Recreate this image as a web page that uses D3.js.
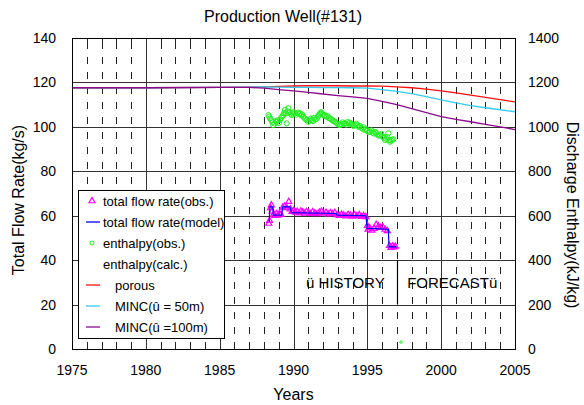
<!DOCTYPE html>
<html>
<head>
<meta charset="utf-8">
<script src="https://cdn.jsdelivr.net/npm/d3@7"></script>
<style>
  body { margin: 0; background: #fff; }
  text { font-family: "Liberation Sans", Arial, sans-serif; fill: #000; }
</style>
</head>
<body>
<svg id="chart"></svg>
<script>
// Axis ticks
const xTicks = [1975, 1980, 1985, 1990, 1995, 2000, 2005];
const yLeftTicks = [0, 20, 40, 60, 80, 100, 120, 140];
const yRightTicks = [0, 200, 400, 600, 800, 1000, 1200, 1400];

// Enthalpy (calc.) in kJ/kg
const calcYears = [1975, 1980, 1985, 1987, 1988, 1989, 1990, 1991, 1992, 1993, 1994, 1995, 1996, 1997, 1998, 1999, 2000, 2001, 2002, 2003, 2004, 2005];
const porous  = [1176, 1176, 1178, 1179, 1180, 1182, 1184, 1185, 1185, 1185, 1184, 1184, 1183, 1180, 1176, 1170, 1162, 1153, 1143, 1133, 1123, 1112];
const minc50  = [1176, 1176, 1178, 1179, 1180, 1179, 1178, 1178, 1177, 1177, 1176, 1174, 1168, 1160, 1150, 1136, 1121, 1108, 1096, 1086, 1077, 1068];
const minc100 = [1176, 1176, 1178, 1178, 1174, 1168, 1162, 1155, 1148, 1141, 1135, 1128, 1115, 1100, 1082, 1064, 1046, 1034, 1023, 1011, 1000, 988];

// Total flow rate (model), kg/s
const modelYears = [1988.36, 1988.40, 1988.60, 1988.63, 1989.20, 1989.27, 1989.76, 1989.88, 1992.90, 1992.93, 1994.91, 1994.98, 1996.42, 1996.47, 1996.99];
const modelFlow  = [57.3, 64.0, 64.0, 60.3, 60.3, 64.0, 64.0, 61.4, 61.0, 60.3, 60.0, 54.3, 53.9, 46.0, 46.0];

// Total flow rate (obs.), kg/s
const obsFlowYears = [1988.33, 1988.38, 1988.45, 1988.50, 1988.55, 1988.65, 1988.75, 1988.85, 1988.95, 1989.05, 1989.15, 1989.28, 1989.40, 1989.55, 1989.68, 1989.78, 1989.90,
  1990.00, 1990.12, 1990.25, 1990.38, 1990.50, 1990.62, 1990.75, 1990.88, 1991.00, 1991.15, 1991.30, 1991.45, 1991.60, 1991.75, 1991.90,
  1992.05, 1992.20, 1992.35, 1992.50, 1992.65, 1992.80, 1992.95, 1993.10, 1993.25, 1993.40, 1993.55, 1993.70, 1993.85,
  1994.00, 1994.15, 1994.30, 1994.45, 1994.60, 1994.75, 1994.90, 1995.00, 1995.05, 1995.15, 1995.30, 1995.45, 1995.60, 1995.75, 1995.90,
  1996.05, 1996.20, 1996.35, 1996.50, 1996.60, 1996.70, 1996.80, 1996.90];
const obsFlow = [56.5, 57.8, 63.5, 64.8, 62.0, 60.5, 60.0, 60.8, 60.2, 61.0, 60.5, 63.8, 64.2, 63.5, 66.3, 63.0, 61.8,
  62.3, 61.5, 61.9, 61.2, 62.0, 61.6, 61.0, 61.8, 61.3, 60.9, 61.7, 61.2, 60.8, 61.5, 61.9,
  61.0, 61.4, 60.7, 61.2, 60.9, 61.3, 60.4, 60.0, 60.6, 60.2, 59.8, 60.5, 60.1,
  59.7, 60.3, 59.9, 60.4, 59.6, 60.0, 59.5, 55.5, 53.8, 54.5, 53.4, 54.2, 56.0, 55.2, 54.6,
  54.9, 53.8, 53.2, 46.5, 45.6, 46.3, 45.8, 46.2];

// Enthalpy (obs.), kJ/kg
const obsEnthYears = [1988.30, 1988.36, 1988.41, 1988.50, 1988.57, 1988.63, 1988.72, 1988.80, 1988.86, 1988.95, 1989.02, 1989.09, 1989.18, 1989.25, 1989.31, 1989.36,
  1989.42, 1989.48, 1989.54, 1989.60, 1989.65, 1989.72, 1989.80, 1989.88, 1989.95, 1990.02, 1990.10, 1990.20, 1990.30, 1990.38, 1990.44, 1990.52, 1990.58, 1990.66, 1990.74, 1990.82,
  1990.90, 1991.00, 1991.08, 1991.15, 1991.23, 1991.32, 1991.40, 1991.48, 1991.57, 1991.65, 1991.72, 1991.80, 1991.87, 1991.91, 1992.00, 1992.08, 1992.13, 1992.22, 1992.30, 1992.38,
  1992.47, 1992.55, 1992.63, 1992.72, 1992.81, 1992.90, 1992.98, 1993.07, 1993.15, 1993.24, 1993.32, 1993.40, 1993.49, 1993.58, 1993.66, 1993.75, 1993.83, 1993.92, 1994.00, 1994.08,
  1994.17, 1994.26, 1994.34, 1994.42, 1994.50, 1994.58, 1994.67, 1994.75, 1994.84, 1994.92, 1995.00, 1995.10, 1995.18, 1995.27, 1995.35, 1995.44, 1995.52, 1995.60, 1995.68, 1995.77,
  1995.86, 1995.95, 1996.03, 1996.12, 1996.20, 1996.28, 1996.36, 1996.42, 1996.48, 1996.54, 1996.60, 1996.68, 1996.76, 1997.28];
const obsEnth = [1053, 1046, 1038, 1030, 1020, 1008, 1015, 1026, 1023, 1030, 1018, 1031, 1042, 1048, 1053, 1062,
  1076, 1060, 1016, 1070, 1084, 1066, 1058, 1053, 1060, 1066, 1061, 1055, 1064, 1058, 1061, 1052, 1056, 1046, 1040, 1035,
  1030, 1023, 1028, 1036, 1031, 1026, 1040, 1033, 1038, 1046, 1054, 1060, 1066, 1061, 1056, 1050, 1053, 1046, 1048, 1040,
  1038, 1034, 1030, 1026, 1023, 1018, 1014, 1010, 1008, 1012, 1020, 1014, 1016, 1010, 1022, 1016, 1019, 1012, 1008, 1004,
  1008, 1014, 1006, 1000, 1004, 996, 992, 998, 986, 990, 982, 976, 978, 984, 974, 970, 978, 972, 966, 960,
  963, 968, 956, 950, 941, 946, 954, 971, 940, 933, 938, 942, 944, 31];

const svgWidth = 584, svgHeight = 405;
const margin = { top: 38, right: 69, bottom: 56, left: 72 };
const width = svgWidth - margin.left - margin.right;
const height = svgHeight - margin.top - margin.bottom;

const root = d3.select("#chart").attr("width", svgWidth).attr("height", svgHeight);
const svg = root.append("g").attr("transform", `translate(${margin.left}, ${margin.top})`);

const x = d3.scaleLinear().domain([1975, 2005]).range([0, width]);
const yL = d3.scaleLinear().domain([0, 140]).range([height, 0]);
const yR = d3.scaleLinear().domain([0, 1400]).range([height, 0]);

// Minor dashed vertical lines, every year
const years = d3.range(1976, 2005).filter(y => y % 5 !== 0);
svg.append("g").selectAll("line").data(years).join("line")
    .attr("x1", d => Math.round(x(d)) + 0.5).attr("x2", d => Math.round(x(d)) + 0.5)
    .attr("y1", 0).attr("y2", height)
    .attr("stroke", "#222").attr("stroke-dasharray", "7,8").attr("stroke-dashoffset", -4);

// Year ticks on top and bottom
svg.append("g").selectAll("line").data(years).join("line")
    .attr("x1", d => Math.round(x(d)) + 0.5).attr("x2", d => Math.round(x(d)) + 0.5)
    .attr("y1", 0).attr("y2", 6).attr("stroke", "#222");
svg.append("g").selectAll("line").data(years).join("line")
    .attr("x1", d => Math.round(x(d)) + 0.5).attr("x2", d => Math.round(x(d)) + 0.5)
    .attr("y1", height - 6).attr("y2", height).attr("stroke", "#222");

// Major grid
svg.append("g").selectAll("line").data(xTicks.slice(1, -1)).join("line")
    .attr("x1", d => Math.round(x(d)) + 0.5).attr("x2", d => Math.round(x(d)) + 0.5)
    .attr("y1", 0).attr("y2", height).attr("stroke", "#333");
svg.append("g").selectAll("line").data(yLeftTicks.slice(1, -1)).join("line")
    .attr("x1", 0).attr("x2", width)
    .attr("y1", d => Math.round(yL(d)) + 0.5).attr("y2", d => Math.round(yL(d)) + 0.5)
    .attr("stroke", "#333");

// Enthalpy calc curves
const calcLine = vals => d3.line().x((d, i) => x(calcYears[i])).y(d => yR(d))(vals);
const curves = [
    { vals: porous, color: "#ff1010" },
    { vals: minc50, color: "#33ccf0" },
    { vals: minc100, color: "#8b0a8b" }
];
curves.forEach(c => {
    svg.append("path").attr("d", calcLine(c.vals))
        .attr("fill", "none").attr("stroke", c.color).attr("stroke-width", 1.3);
});

// Enthalpy obs
svg.append("g").selectAll("circle").data(obsEnth).join("circle")
    .attr("cx", (d, i) => x(obsEnthYears[i])).attr("cy", d => yR(d))
    .attr("r", d => d < 100 ? 1.2 : 2.6)
    .attr("fill", "none").attr("stroke", "#22ee22").attr("stroke-width", 1);

// Flow obs
const tri = d3.symbol().type(d3.symbolTriangle).size(16);
svg.append("g").selectAll("path").data(obsFlow).join("path")
    .attr("d", tri)
    .attr("transform", (d, i) => `translate(${x(obsFlowYears[i])},${yL(d)})`)
    .attr("fill", "none").attr("stroke", "#ff00ff").attr("stroke-width", 1.2);

// Flow model
svg.append("path")
    .attr("d", d3.line().x((d, i) => x(modelYears[i])).y(d => yL(d))(modelFlow))
    .attr("fill", "none").attr("stroke", "#0000ff").attr("stroke-width", 1.2);

// HISTORY / FORECAST divider
svg.append("line")
    .attr("x1", Math.round(x(1997)) + 0.5).attr("x2", Math.round(x(1997)) + 0.5)
    .attr("y1", yL(40)).attr("y2", yL(20)).attr("stroke", "#000").attr("stroke-width", 1.2);
svg.append("text").attr("x", x(1990.85)).attr("y", yL(27.5))
    .style("font-size", "15px").text("ü HISTORY");
svg.append("text").attr("x", x(1997.7)).attr("y", yL(27.5))
    .style("font-size", "15px").text("FORECASTü");

// Legend
const legendItems = [
    { label: "total flow rate(obs.)", kind: "tri", color: "#ff00ff", dx: 0 },
    { label: "total flow rate(model)", kind: "line", color: "#0000ff", dx: 0 },
    { label: "enthalpy(obs.)", kind: "circle", color: "#22ee22", dx: 0 },
    { label: "enthalpy(calc.)", kind: "none", color: null, dx: 0 },
    { label: "porous", kind: "line", color: "#ff1010", dx: 12 },
    { label: "MINC(û = 50m)", kind: "line", color: "#33ccf0", dx: 12 },
    { label: "MINC(û =100m)", kind: "line", color: "#8b0a8b", dx: 12 }
];
const lg = root.append("g").attr("transform", "translate(78,190)");
lg.append("rect").attr("x", 0.5).attr("y", 0.5).attr("width", 146).attr("height", 148)
    .attr("fill", "#fff").attr("stroke", "#000");
legendItems.forEach((d, i) => {
    const cy = 11 + i * 21;
    if (d.kind === "line") {
        lg.append("line").attr("x1", 8).attr("x2", 22).attr("y1", cy).attr("y2", cy)
            .attr("stroke", d.color).attr("stroke-width", 1.3);
    } else if (d.kind === "tri") {
        lg.append("path").attr("d", tri).attr("transform", `translate(14,${cy})`)
            .attr("fill", "none").attr("stroke", d.color).attr("stroke-width", 1.2);
    } else if (d.kind === "circle") {
        lg.append("circle").attr("cx", 14).attr("cy", cy).attr("r", 2)
            .attr("fill", "none").attr("stroke", d.color);
    }
    lg.append("text").attr("x", 25 + d.dx).attr("y", cy + 4.5)
        .style("font-size", "13px").text(d.label);
});

// Frame
svg.append("rect").attr("x", 0.5).attr("y", 0.5).attr("width", width).attr("height", height)
    .attr("fill", "none").attr("stroke", "#000");

// Tick labels
svg.append("g").selectAll("text").data(yLeftTicks).join("text")
    .attr("x", -16).attr("y", d => yL(d) + 5).attr("text-anchor", "end")
    .style("font-size", "14px").text(d => d);
svg.append("g").selectAll("text").data(yRightTicks).join("text")
    .attr("x", width + 13).attr("y", d => yR(d) + 5)
    .style("font-size", "14px").text(d => d);
svg.append("g").selectAll("text").data(xTicks).join("text")
    .attr("x", d => x(d)).attr("y", height + 26).attr("text-anchor", "middle")
    .style("font-size", "14px").text(d => d);

// Titles
root.append("text").attr("x", 283).attr("y", 22).attr("text-anchor", "middle")
    .style("font-size", "16px").text("Production Well(#131)");
root.append("text").attr("x", margin.left + width / 2).attr("y", 400).attr("text-anchor", "middle")
    .style("font-size", "16px").text("Years");
root.append("text").attr("transform", `translate(24, 200) rotate(-90)`).attr("text-anchor", "middle")
    .style("font-size", "16px").text("Total Flow Rate(kg/s)");
root.append("text").attr("transform", `translate(567, 215) rotate(90)`).attr("text-anchor", "middle")
    .style("font-size", "16px").text("Discharge Enthalpy(kJ/kg)");
</script>
</body>
</html>
